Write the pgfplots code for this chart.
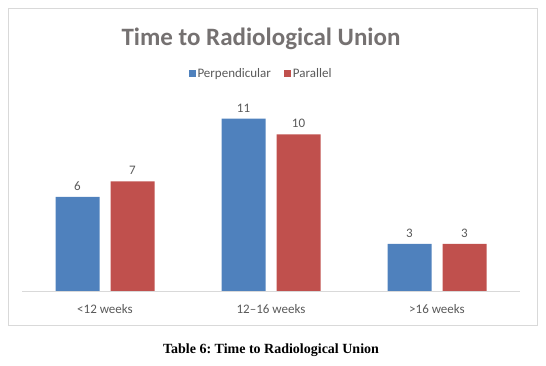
\documentclass[border=0pt]{standalone}
\usepackage{pgfplots}
\pgfplotsset{compat=1.18}
\usepackage{fontspec}
\setmainfont{Carlito}
\newfontfamily\capfont{Liberation Serif}
\frenchspacing
\definecolor{cblue}{HTML}{4F81BD}
\definecolor{cred}{HTML}{C0504D}
\definecolor{ctitle}{HTML}{757171}
\definecolor{ctext}{HTML}{595959}
\definecolor{cframe}{HTML}{D9D9D9}
\begin{document}
\begin{tikzpicture}[x=1pt,y=1pt]
\useasboundingbox (0,0) rectangle (546,366);
\draw[cframe, line width=0.8pt] (8,41) rectangle (537,358);
\node[ctitle, font=\fontsize{25}{30}\selectfont\bfseries] at (261,327) {Time to Radiological Union};
\node[font=\capfont\fontsize{14}{17}\selectfont\bfseries] at (271,16) {Table 6: Time to Radiological Union};
\begin{axis}[
  at={(22pt,75pt)}, anchor=south west,
  scale only axis, width=498pt, height=188pt,
  ybar=11pt, bar width=44pt,
  xmin=-0.5, xmax=2.5, ymin=0, ymax=12,
  axis x line*=bottom, axis y line=none,
  x axis line style={cframe, line width=0.8pt, -},
  xtick={0,1,2}, xticklabels={<12 weeks, 12--16 weeks, >16 weeks},
  major tick length=0pt,
  /pgf/number format/assume math mode=true,
  xticklabel style={ctext, font=\fontsize{13}{15}\selectfont, yshift=-10pt},
  nodes near coords,
  every node near coord/.append style={ctext, font=\fontsize{13}{15}\selectfont, yshift=3pt},
  legend style={at={(0.48,1.0)}, anchor=south, yshift=20pt, draw=none, fill=none,
    legend columns=2, font=\fontsize{13}{15}\selectfont\color{ctext},
    /tikz/every even column/.append style={column sep=11pt}},
  legend image code/.code={\fill[#1] (0pt,-3.5pt) rectangle (7pt,3.5pt);},
]
\addplot[fill=cblue, draw=none] coordinates {(0,6) (1,11) (2,3)};
\addplot[fill=cred, draw=none] coordinates {(0,7) (1,10) (2,3)};
\legend{Perpendicular, Parallel}
\end{axis}
\end{tikzpicture}
\end{document}
